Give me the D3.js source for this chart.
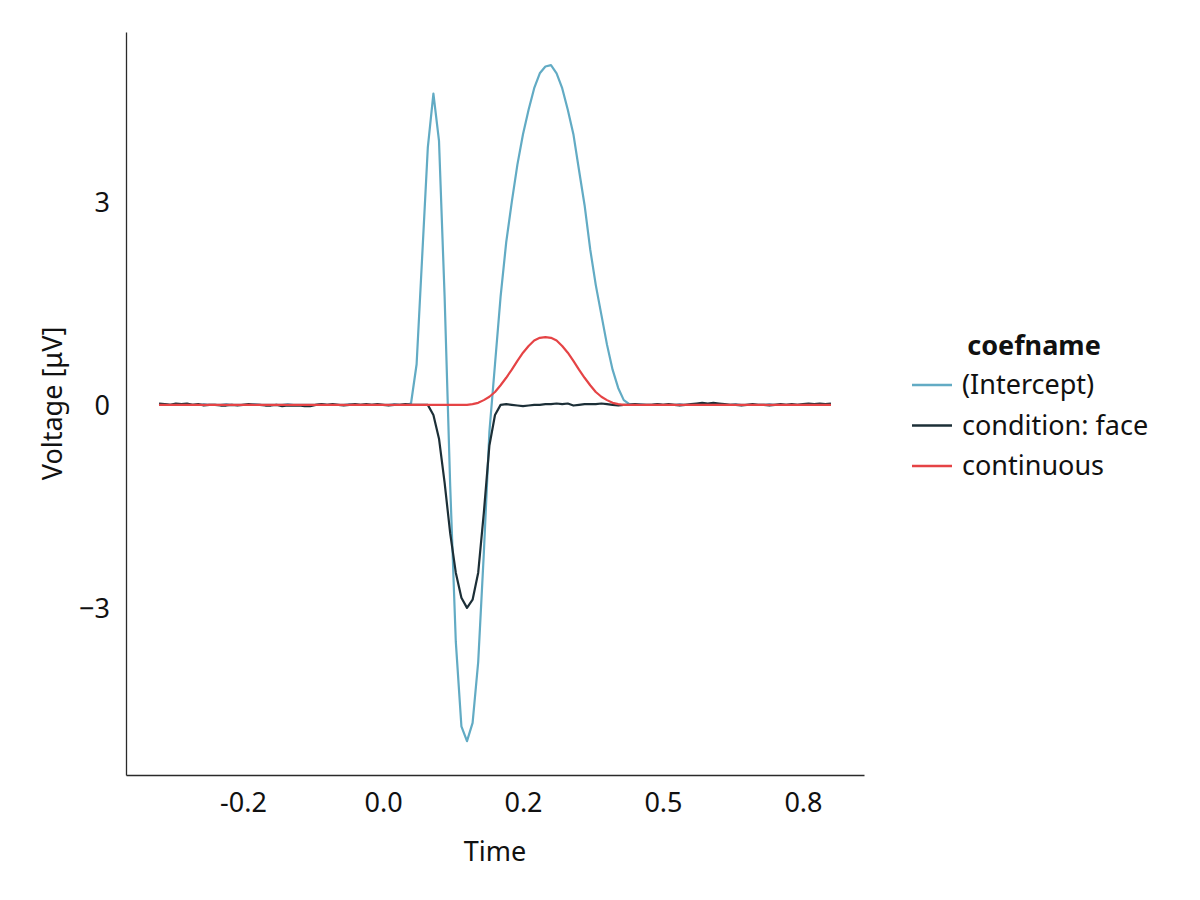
<!DOCTYPE html>
<html>
<head>
<meta charset="utf-8">
<script src="https://cdn.jsdelivr.net/npm/d3@7"></script>
<style>
  body { margin: 0; background: #fff; }
  text { font-family: "Noto Sans", sans-serif; }
</style>
</head>
<body>
<svg id="chart" width="1200" height="900"></svg>
<script>
// time grid, -0.40 .. 0.80 s in 0.01 steps
const times = d3.range(-40, 81).map(i => i / 100);

const intercept = [
  0, 0.01, 0, 0, 0.01, 0, 0, 0, 0.01, 0,
  0, 0, 0.01, 0, 0, 0, 0, 0.01, 0, 0,
  0, 0, 0, 0.01, 0, 0, 0, 0, 0, 0.01,
  0, 0, 0, 0, 0.01, 0, 0, 0, 0, 0,
  0, 0, 0.01, 0, 0,
  0.02, 0.6, 2.2, 3.8, 4.6, 3.9, 1.6, -1.2, -3.5, -4.75,
  -4.97, -4.7, -3.8, -2.2, -0.4, 0.6, 1.6, 2.4, 3.0, 3.55,
  4.0, 4.36, 4.68, 4.9, 5.0, 5.02, 4.9, 4.68, 4.36, 4.0,
  3.47, 2.95, 2.3, 1.77, 1.33, 0.89, 0.52, 0.25, 0.07, 0.01,
  0.01, 0.01, 0, 0, 0.01, 0, 0, 0, 0.01, 0,
  0, 0, 0, 0.01, 0, 0, 0, 0, 0.01, 0,
  0, 0, 0, 0, 0.01, 0, 0, 0, 0, 0,
  0, 0, 0, 0, 0, 0
];

const conditionFace = [
  0.02, 0.01, 0, 0.02, 0.01, 0.02, 0, 0.01, -0.01, 0,
  0, -0.01, -0.01, 0, -0.01, 0, 0.01, 0, 0, -0.01,
  -0.01, 0, -0.02, -0.01, -0.01, -0.01, -0.02, -0.02, 0, 0.01,
  0, 0.01, 0, -0.01, 0, 0.01, 0, 0.01, 0, 0.01,
  0, -0.01, 0, 0, 0.01, 0, 0, 0,
  0, -0.15, -0.5, -1.15, -1.9, -2.48, -2.85, -3.0, -2.88, -2.48,
  -1.6, -0.6, -0.15, 0.0,
  0.01, 0, -0.01, -0.02, -0.01, 0, 0, 0.01, 0.01, 0.02,
  0.01, 0.02, -0.01, 0, 0.01, 0.01, 0.01, 0.02, 0.01, 0,
  -0.01, 0, 0, 0.01, 0, 0, 0, 0.01, 0, 0.01,
  0, -0.01, 0, 0.01, 0.02, 0.03, 0.02, 0.03, 0.02, 0.01,
  0, 0, -0.01, 0, 0.01, 0, 0, -0.01, 0, 0.01,
  0, 0.01, 0, 0.01, 0.02, 0.01, 0.02, 0.01, 0.02
];

const continuous = [
  0, 0, 0, 0, 0, 0, 0, 0, 0, 0,
  0, 0, 0, 0, 0, 0, 0, 0, 0, 0,
  0, 0, 0, 0, 0, 0, 0, 0, 0, 0,
  0, 0, 0, 0, 0, 0, 0, 0, 0, 0,
  0, 0, 0, 0, 0, 0, 0, 0, 0, 0,
  0, 0, 0, 0, 0, 0,
  0.01, 0.03, 0.07, 0.12, 0.19, 0.29, 0.4, 0.52, 0.65, 0.77,
  0.87, 0.95, 0.99, 1.0, 0.99, 0.95, 0.87, 0.77, 0.65, 0.52,
  0.4, 0.29, 0.19, 0.12, 0.07, 0.03, 0.01,
  0, 0, 0, 0, 0, 0, 0, 0, 0, 0,
  0, 0, 0, 0, 0, 0, 0, 0, 0, 0,
  0, 0, 0, 0, 0, 0, 0, 0, 0, 0,
  0, 0, 0, 0, 0, 0, 0, 0
];

const seriesNames = ["(Intercept)", "condition: face", "continuous"];
const seriesColors = ["#62abc4", "#1c2f37", "#e54345"];
const seriesValues = [intercept, conditionFace, continuous];

const xTickValues = [-0.25, 0, 0.25, 0.5, 0.75];
const xTickLabels = ["-0.2", "0.0", "0.2", "0.5", "0.8"];
const yTickValues = [3, 0, -3];
const yTickLabels = ["3", "0", "\u22123"];

const dimensions = { left: 126, right: 864, top: 32, bottom: 775 };
const fontSize = 27;

const svg = d3.select("#chart");

const xScale = d3.scaleLinear()
  .domain([-0.459, 0.859])
  .range([dimensions.left, dimensions.right]);

const yScale = d3.scaleLinear()
  .domain([-5.47, 5.51])
  .range([dimensions.bottom, dimensions.top]);

// axes, Makie style: spine only, no tick marks
const xAxis = svg.append("g")
  .attr("transform", `translate(0,${dimensions.bottom})`)
  .call(d3.axisBottom(xScale).tickValues(xTickValues)
    .tickFormat((d, i) => xTickLabels[i]).tickSize(0).tickPadding(18));
xAxis.select(".domain").attr("stroke", "#2a2a2a").attr("stroke-width", 1.3);
xAxis.selectAll("text").attr("font-size", fontSize).attr("fill", "#111")
  .style("font-family", "'Noto Sans', sans-serif");

const yAxis = svg.append("g")
  .attr("transform", `translate(${dimensions.left},0)`)
  .call(d3.axisLeft(yScale).tickValues(yTickValues)
    .tickFormat((d, i) => yTickLabels[i]).tickSize(0).tickPadding(16));
yAxis.select(".domain").attr("stroke", "#2a2a2a").attr("stroke-width", 1.3);
yAxis.selectAll("text").attr("font-size", fontSize).attr("fill", "#111")
  .attr("dy", "0.35em")
  .style("font-family", "'Noto Sans', sans-serif");

svg.append("text")
  .attr("x", (dimensions.left + dimensions.right) / 2)
  .attr("y", 861)
  .attr("text-anchor", "middle")
  .attr("font-size", fontSize)
  .attr("fill", "#111")
  .text("Time");

svg.append("text")
  .attr("transform", `translate(62,${(dimensions.top + dimensions.bottom) / 2}) rotate(-90)`)
  .attr("text-anchor", "middle")
  .attr("font-size", fontSize)
  .attr("fill", "#111")
  .text("Voltage [μV]");

const line = d3.line()
  .x((d, i) => xScale(times[i]))
  .y(d => yScale(d));

seriesValues.forEach((vals, k) => {
  svg.append("path")
    .datum(vals)
    .attr("fill", "none")
    .attr("stroke", seriesColors[k])
    .attr("stroke-width", 2.2)
    .attr("stroke-linejoin", "round")
    .attr("d", line);
});

// legend
const legend = svg.append("g");
legend.append("text")
  .attr("x", 1034).attr("y", 355)
  .attr("text-anchor", "middle")
  .attr("font-size", fontSize).attr("font-weight", "bold").attr("fill", "#111")
  .text("coefname");

seriesNames.forEach((name, k) => {
  const y = 385 + k * 40.5;
  legend.append("line")
    .attr("x1", 912).attr("x2", 952).attr("y1", y).attr("y2", y)
    .attr("stroke", seriesColors[k]).attr("stroke-width", 2.4);
  legend.append("text")
    .attr("x", 962).attr("y", y + 9)
    .attr("font-size", fontSize).attr("fill", "#111")
    .text(name);
});
</script>
</body>
</html>
